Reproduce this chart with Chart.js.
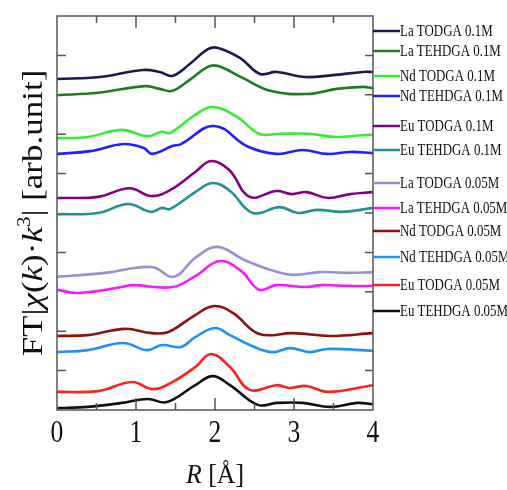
<!DOCTYPE html>
<html>
<head>
<meta charset="utf-8">
<script src="https://cdn.jsdelivr.net/npm/chart.js@4"></script>
<style>
  html, body { margin: 0; padding: 0; background: #fff; }
  #wrap { width: 507px; height: 490px; }
</style>
</head>
<body>
<div id="wrap"><canvas id="ftChart"></canvas></div>
<script>
// Series: [R (Å), FT magnitude (arb., stacked offset)]
const laTodga01 = [[0, 8.40], [0.54, 8.45], [1.09, 8.63], [1.30, 8.58], [1.46, 8.48], [1.68, 8.78], [1.91, 9.16], [2.04, 9.19], [2.32, 8.93], [2.57, 8.53], [2.78, 8.58], [3.14, 8.45], [3.49, 8.50], [3.87, 8.58], [4.0, 8.58]];
const laTehdga01 = [[0, 7.99], [0.52, 8.05], [1.11, 8.22], [1.30, 8.15], [1.46, 8.10], [1.68, 8.38], [1.91, 8.71], [2.04, 8.73], [2.35, 8.43], [2.70, 8.10], [3.16, 8.02], [3.54, 8.15], [3.87, 8.20], [4.0, 8.17]];
const ndTodga01 = [[0, 6.90], [0.39, 6.93], [0.82, 7.11], [1.14, 6.95], [1.33, 7.06], [1.43, 7.03], [1.75, 7.49], [1.97, 7.69], [2.28, 7.44], [2.56, 7.01], [2.81, 7.01], [3.19, 7.01], [3.52, 6.93], [3.90, 6.98], [4.0, 6.98]];
const ndTehdga01 = [[0, 6.50], [0.42, 6.57], [0.84, 6.75], [1.10, 6.65], [1.20, 6.50], [1.46, 6.70], [1.57, 6.75], [1.99, 7.21], [2.42, 6.68], [2.78, 6.50], [3.11, 6.60], [3.42, 6.50], [3.71, 6.55], [4.0, 6.52]];
const euTodga01 = [[0, 5.38], [0.52, 5.41], [0.92, 5.63], [1.19, 5.43], [1.43, 5.58], [1.75, 6.04], [1.95, 6.32], [2.18, 6.09], [2.44, 5.41], [2.78, 5.56], [2.97, 5.48], [3.16, 5.53], [3.43, 5.38], [3.71, 5.48], [4.0, 5.53]];
const euTehdga01 = [[0, 4.97], [0.52, 5.00], [0.90, 5.23], [1.19, 5.03], [1.33, 5.13], [1.43, 5.10], [1.75, 5.53], [1.97, 5.76], [2.19, 5.56], [2.48, 5.00], [2.82, 5.15], [3.05, 5.00], [3.29, 5.08], [3.62, 5.03], [4.0, 5.13]];
const laTodga005 = [[0, 3.38], [0.61, 3.48], [1.20, 3.63], [1.48, 3.38], [1.75, 3.86], [2.03, 4.14], [2.37, 3.81], [2.71, 3.55], [2.99, 3.43], [3.33, 3.50], [3.70, 3.48], [4.0, 3.50]];
const laTehdga005 = [[0, 3.05], [0.27, 2.97], [0.82, 3.12], [0.95, 3.17], [1.46, 3.12], [1.75, 3.40], [2.06, 3.78], [2.33, 3.53], [2.56, 3.05], [2.78, 3.17], [3.14, 3.12], [3.35, 3.17], [3.67, 3.15], [4.0, 3.15]];
const ndTodga005 = [[0, 1.88], [0.39, 1.90], [0.86, 2.06], [1.20, 1.95], [1.41, 1.98], [1.75, 2.41], [1.99, 2.64], [2.23, 2.46], [2.56, 1.93], [2.99, 1.95], [3.46, 1.88], [4.0, 1.95]];
const ndTehdga005 = [[0, 1.47], [0.39, 1.52], [0.84, 1.70], [1.14, 1.52], [1.33, 1.65], [1.57, 1.60], [1.75, 1.85], [2.00, 2.08], [2.19, 1.90], [2.44, 1.65], [2.72, 1.47], [2.95, 1.57], [3.20, 1.47], [3.42, 1.55], [4.0, 1.50]];
const euTodga005 = [[0, 0.46], [0.52, 0.48], [0.95, 0.71], [1.22, 0.53], [1.46, 0.71], [1.75, 1.09], [1.95, 1.42], [2.19, 1.09], [2.44, 0.51], [2.78, 0.63], [2.94, 0.56], [3.16, 0.61], [3.43, 0.46], [4.0, 0.63]];
const euTehdga005 = [[0, 0.05], [0.39, 0.08], [0.82, 0.18], [1.15, 0.28], [1.39, 0.20], [1.75, 0.63], [1.97, 0.86], [2.19, 0.63], [2.54, 0.13], [2.78, 0.18], [3.11, 0.18], [3.46, 0.08], [3.80, 0.18], [4.0, 0.15]];

const seriesNames = ['La TODGA 0.1M', 'La TEHDGA 0.1M', 'Nd TODGA 0.1M', 'Nd TEHDGA 0.1M', 'Eu TODGA 0.1M', 'Eu TEHDGA 0.1M',
  'La TODGA 0.05M', 'La TEHDGA 0.05M', 'Nd TODGA 0.05M', 'Nd TEHDGA 0.05M', 'Eu TODGA 0.05M', 'Eu TEHDGA 0.05M'];
const seriesData = [laTodga01, laTehdga01, ndTodga01, ndTehdga01, euTodga01, euTehdga01,
  laTodga005, laTehdga005, ndTodga005, ndTehdga005, euTodga005, euTehdga005];
const xTickValues = [0, 1, 2, 3, 4];
const xTickLabels = ['0', '1', '2', '3', '4'];
const leftTickValues = [1, 2, 4, 6, 7, 9];
const rightTickValues = [1, 3, 4, 5, 6, 8, 9];

const colors = ['#1b1b52', '#1f7d1f', '#33ee33', '#2020ff', '#820082', '#239191',
  '#9393d2', '#ff14ff', '#8c1212', '#1e90ff', '#ff2020', '#111111'];
// legend row offsets below the top of the frame (layout only)
const legendRowY = [15, 35, 60, 80, 110, 134, 167, 192, 215, 241, 269, 295];

const SERIF = '"Liberation Serif", "DejaVu Serif", serif';

// draw text squeezed horizontally (the source figure is a bit narrow)
function squished(ctx, text, x, y, sx, align) {
  ctx.save();
  ctx.translate(x, y);
  ctx.scale(sx, 1);
  ctx.textAlign = align || 'center';
  ctx.fillText(text, 0, 0);
  ctx.restore();
}

const framePlugin = {
  id: 'frame',
  afterDraw(chart) {
    const { ctx, chartArea: a, scales: { x, y } } = chart;
    ctx.save();
    ctx.strokeStyle = '#555';
    ctx.lineWidth = 1.5;
    ctx.strokeRect(a.left, a.top, a.right - a.left, a.bottom - a.top);

    // inward ticks
    ctx.beginPath();
    for (let r = 0.5; r < 4; r += 0.5) {
      const px = x.getPixelForValue(r);
      const len = Number.isInteger(r) ? 12 : 7;
      ctx.moveTo(px, a.bottom); ctx.lineTo(px, a.bottom - len);
      ctx.moveTo(px, a.top); ctx.lineTo(px, a.top + len);
    }
    leftTickValues.forEach(v => {
      const py = y.getPixelForValue(v);
      ctx.moveTo(a.left, py); ctx.lineTo(a.left + 9, py);
    });
    rightTickValues.forEach(v => {
      const py = y.getPixelForValue(v);
      ctx.moveTo(a.right, py); ctx.lineTo(a.right - 8, py);
    });
    ctx.stroke();

    // x tick labels
    ctx.fillStyle = '#111';
    ctx.textBaseline = 'alphabetic';
    ctx.font = '32px ' + SERIF;
    xTickValues.forEach((v, i) => squished(ctx, xTickLabels[i], x.getPixelForValue(v), a.bottom + 32, 0.8));

    // x title: R [Å]
    const cx = (a.left + a.right) / 2;
    ctx.font = 'italic 28px ' + SERIF;
    const wR = ctx.measureText('R').width;
    ctx.font = '28px ' + SERIF;
    const wRest = ctx.measureText(' [Å]').width;
    const sxT = 0.92;
    let start = cx - (wR + wRest) * sxT / 2;
    ctx.font = 'italic 28px ' + SERIF;
    squished(ctx, 'R', start, a.bottom + 73, sxT, 'left');
    ctx.font = '28px ' + SERIF;
    squished(ctx, ' [Å]', start + wR * sxT, a.bottom + 73, sxT, 'left');

    // y title: FT|χ(k)·k³| [arb.unit]
    const parts = [
      { t: 'FT|', f: '35px ' + SERIF, dy: 0 },
      { t: 'χ', f: 'italic 35px ' + SERIF, dy: 0 },
      { t: '(', f: '35px ' + SERIF, dy: 0 },
      { t: 'k', f: 'italic 35px ' + SERIF, dy: 0 },
      { t: ')·', f: '35px ' + SERIF, dy: 0 },
      { t: 'k', f: 'italic 35px ' + SERIF, dy: 0 },
      { t: '3', f: '21px ' + SERIF, dy: -14 },
      { t: '| [arb.unit]', f: '35px ' + SERIF, dy: 0 }
    ];
    let total = 0;
    parts.forEach(p => { ctx.font = p.f; p.w = ctx.measureText(p.t).width; total += p.w; });
    ctx.save();
    ctx.translate(a.left - 15, (a.top + a.bottom) / 2);
    ctx.rotate(-Math.PI / 2);
    ctx.scale(1, 0.85);
    ctx.textAlign = 'left';
    let pos = -total / 2;
    parts.forEach(p => { ctx.font = p.f; ctx.fillText(p.t, pos, p.dy); pos += p.w; });
    ctx.restore();

    // legend to the right of the frame
    ctx.font = '17px ' + SERIF;
    ctx.textBaseline = 'middle';
    seriesNames.forEach((name, i) => {
      const ly = a.top + legendRowY[i];
      ctx.strokeStyle = colors[i];
      ctx.lineWidth = 2.5;
      ctx.beginPath();
      ctx.moveTo(a.right, ly); ctx.lineTo(a.right + 27, ly);
      ctx.stroke();
      ctx.fillStyle = '#111';
      squished(ctx, name, a.right + 27, ly + 1, 0.76, 'left');
    });
    ctx.restore();
  }
};

new Chart(document.getElementById('ftChart').getContext('2d'), {
  type: 'line',
  data: {
    datasets: seriesData.map((pts, i) => ({
      label: seriesNames[i],
      data: pts.map(p => ({ x: p[0], y: p[1] })),
      borderColor: colors[i],
      borderWidth: 2.6,
      pointRadius: 0,
      fill: false,
      tension: 0.4
    }))
  },
  options: {
    responsive: true,
    maintainAspectRatio: false,
    animation: false,
    layout: { padding: { left: 57, top: 16, right: 134, bottom: 80 } },
    plugins: { legend: { display: false }, tooltip: { enabled: false } },
    scales: {
      x: { type: 'linear', min: 0, max: 4, display: false },
      y: { type: 'linear', min: 0, max: 10, display: false }
    }
  },
  plugins: [framePlugin]
});
</script>
</body>
</html>
